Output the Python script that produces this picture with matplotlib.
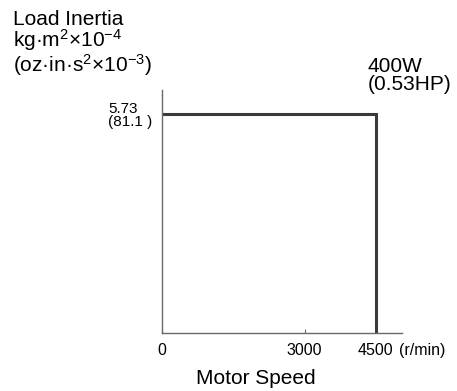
import matplotlib
matplotlib.use("Agg")
import matplotlib.pyplot as plt

plt.rcParams['font.family'] = ['Liberation Sans', 'DejaVu Sans']
plt.rcParams['mathtext.fontset'] = 'custom'
plt.rcParams['mathtext.rm'] = 'Liberation Sans'
plt.rcParams['mathtext.it'] = 'Liberation Sans:italic'

# speed-inertia limit for the 400W motor
speed = [0, 4500, 4500]
inertia = [5.73, 5.73, 0]

x_ticks = [0, 3000, 4500]
x_labels = ["0", "3000", "4500"]
y_ticks = [5.73]
y_labels = ["5.73\n(81.1 )"]

fig = plt.figure(figsize=(4.57, 3.91), dpi=100)
ax = fig.add_axes([0.3545, 0.148, 0.525, 0.6215])

ax.plot(speed, inertia, color="#3a3a3a", lw=2.2, solid_joinstyle='miter')

ax.set_xlim(0, 5050)
ax.set_ylim(0, 6.36)

for s in ['top', 'right']:
    ax.spines[s].set_visible(False)
for s in ['left', 'bottom']:
    ax.spines[s].set_color("#6a6a6a")
    ax.spines[s].set_linewidth(1.0)

ax.set_xticks(x_ticks)
ax.set_xticklabels(x_labels, fontsize=11.5)
ax.tick_params(axis='x', direction='in', length=3, color="#6a6a6a", pad=7)
ax.set_yticks(y_ticks)
ax.set_yticklabels(y_labels, fontsize=11, linespacing=0.9)
ax.tick_params(axis='y', length=0, pad=7)
for lab in ax.get_yticklabels():
    lab.set_multialignment('left')

ax.text(4990, -0.26, "(r/min)", fontsize=11.5, ha='left', va='top')

fig.text(13 / 457, 1 - 10 / 391,
         "Load Inertia\nkg·m$^{2}$×10$^{-4}$\n(oz·in·s$^{2}$×10$^{-3}$)",
         fontsize=15, ha='left', va='top', linespacing=0.92)
fig.text(368 / 457, 1 - 57 / 391, "400W\n(0.53HP)", fontsize=15,
         ha='left', va='top', linespacing=0.92)
fig.text(256 / 457, 1 - 378 / 391, "Motor Speed", fontsize=15,
         ha='center', va='center')

fig.savefig("out.png", dpi=100)
